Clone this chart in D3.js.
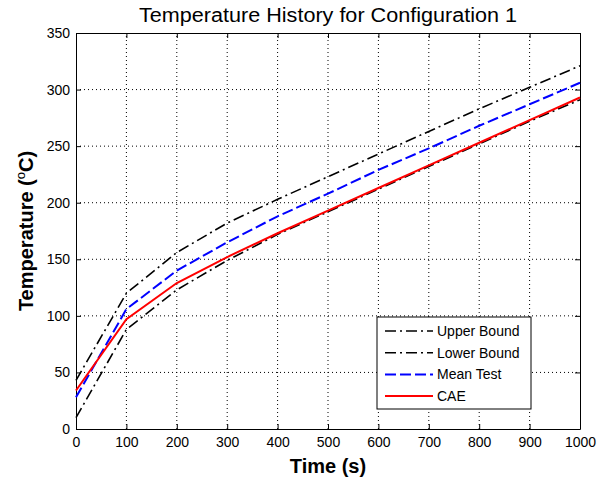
<!DOCTYPE html>
<html>
<head>
<meta charset="utf-8">
<script src="https://cdn.jsdelivr.net/npm/d3@7"></script>
<style>
  body { margin: 0; background: #fff; }
  text { font-family: Arial, "Liberation Sans", sans-serif; }
</style>
</head>
<body>
<div id="chart"></div>
<script>
// data
const times = [0, 100, 200, 300, 400, 500, 600, 700, 800, 900, 1000]
const upperBound = [43, 120, 156, 182, 203, 223, 243, 263, 283, 302, 321]
const lowerBound = [10, 88, 123, 149, 172, 192, 212, 232, 252, 272, 291]
const meanTest = [28, 106, 140, 165, 188, 208, 229, 248, 268, 287, 306]
const cae = [34, 97, 129, 152, 173, 193, 213, 233, 253, 273, 293]
const xTicks = [0, 100, 200, 300, 400, 500, 600, 700, 800, 900, 1000]
const yTicks = [0, 50, 100, 150, 200, 250, 300, 350]

const width = 613
const height = 481
const margin = {top: 33, right: 33, bottom: 52, left: 76}

const svg = d3.select("#chart")
  .append("svg")
    .attr("width", width)
    .attr("height", height)

const x = d3.scaleLinear().domain([0, 1000]).range([margin.left, width - margin.right])
const y = d3.scaleLinear().domain([0, 350]).range([height - margin.bottom, margin.top])

// grid
svg.append("g")
  .selectAll("line")
  .data(xTicks.slice(1, -1))
  .join("line")
    .attr("x1", d => x(d)).attr("x2", d => x(d))
    .attr("y1", y(0)).attr("y2", y(350))
    .attr("stroke", "#000").attr("stroke-dasharray", "1,3")
svg.append("g")
  .selectAll("line")
  .data(yTicks.slice(1, -1))
  .join("line")
    .attr("y1", d => y(d)).attr("y2", d => y(d))
    .attr("x1", x(0)).attr("x2", x(1000))
    .attr("stroke", "#000").attr("stroke-dasharray", "1,3")

// axes (ticks inward, box all round)
const tick = 5
svg.append("g").attr("transform", `translate(0,${y(0)})`)
  .call(d3.axisBottom(x).tickValues(xTicks).tickFormat(d3.format("d"))
    .tickSizeInner(-tick).tickSizeOuter(0).tickPadding(8))
svg.append("g").attr("transform", `translate(0,${y(350)})`)
  .call(d3.axisTop(x).tickValues(xTicks).tickSizeInner(-tick).tickSizeOuter(0).tickFormat(""))
svg.append("g").attr("transform", `translate(${x(0)},0)`)
  .call(d3.axisLeft(y).tickValues(yTicks).tickSizeInner(-tick).tickSizeOuter(0).tickPadding(6))
svg.append("g").attr("transform", `translate(${x(1000)},0)`)
  .call(d3.axisRight(y).tickValues(yTicks).tickSizeInner(-tick).tickSizeOuter(0).tickFormat(""))

svg.selectAll(".domain").attr("stroke", "#000")
svg.selectAll(".tick line").attr("stroke", "#000")
svg.selectAll(".tick text").attr("font-size", 14).attr("fill", "#000")
  .attr("font-family", "Arial, 'Liberation Sans', sans-serif")

// lines
const series = [
  {name: "Upper Bound", values: upperBound, color: "#000", dash: "11,4,2,4", w: 1.6},
  {name: "Lower Bound", values: lowerBound, color: "#000", dash: "11,4,2,4", w: 1.6},
  {name: "Mean Test", values: meanTest, color: "#0000ff", dash: "11,4", w: 2},
  {name: "CAE", values: cae, color: "#ff0000", dash: null, w: 2}
]

const line = d3.line()
  .x((d, i) => x(times[i]))
  .y(d => y(d))

svg.append("g")
  .selectAll("path")
  .data(series)
  .join("path")
    .attr("d", d => line(d.values))
    .attr("fill", "none")
    .attr("stroke", d => d.color)
    .attr("stroke-width", d => d.w)
    .attr("stroke-dasharray", d => d.dash)

// titles
svg.append("text")
  .attr("x", (x(0) + x(1000)) / 2).attr("y", 22)
  .attr("text-anchor", "middle").attr("font-size", 20)
  .attr("textLength", 378).attr("lengthAdjust", "spacingAndGlyphs")
  .text("Temperature History for Configuration 1")

svg.append("text")
  .attr("x", (x(0) + x(1000)) / 2).attr("y", 473)
  .attr("text-anchor", "middle").attr("font-size", 20).attr("font-weight", "bold")
  .text("Time (s)")

const yl = svg.append("text")
  .attr("transform", `translate(33,${(y(0) + y(350)) / 2}) rotate(-90)`)
  .attr("text-anchor", "middle").attr("font-size", 20).attr("font-weight", "bold")
yl.append("tspan").text("Temperature (")
yl.append("tspan").attr("font-size", 13).attr("font-weight", "normal").attr("dy", -8).text("o")
yl.append("tspan").attr("dy", 8).text("C)")

// legend
const lg = svg.append("g").attr("transform", "translate(377,317)")
lg.append("rect")
  .attr("width", 154).attr("height", 92)
  .attr("fill", "#fff").attr("stroke", "#000")
const item = lg.selectAll("g")
  .data(series)
  .join("g")
    .attr("transform", (d, i) => `translate(0,${14 + i * 21.7})`)
item.append("line")
  .attr("x1", 8).attr("x2", 56)
  .attr("stroke", d => d.color)
  .attr("stroke-width", d => d.w)
  .attr("stroke-dasharray", d => d.dash)
item.append("text")
  .attr("x", 60).attr("dy", "0.35em")
  .attr("font-size", 14)
  .text(d => d.name)
</script>
</body>
</html>
